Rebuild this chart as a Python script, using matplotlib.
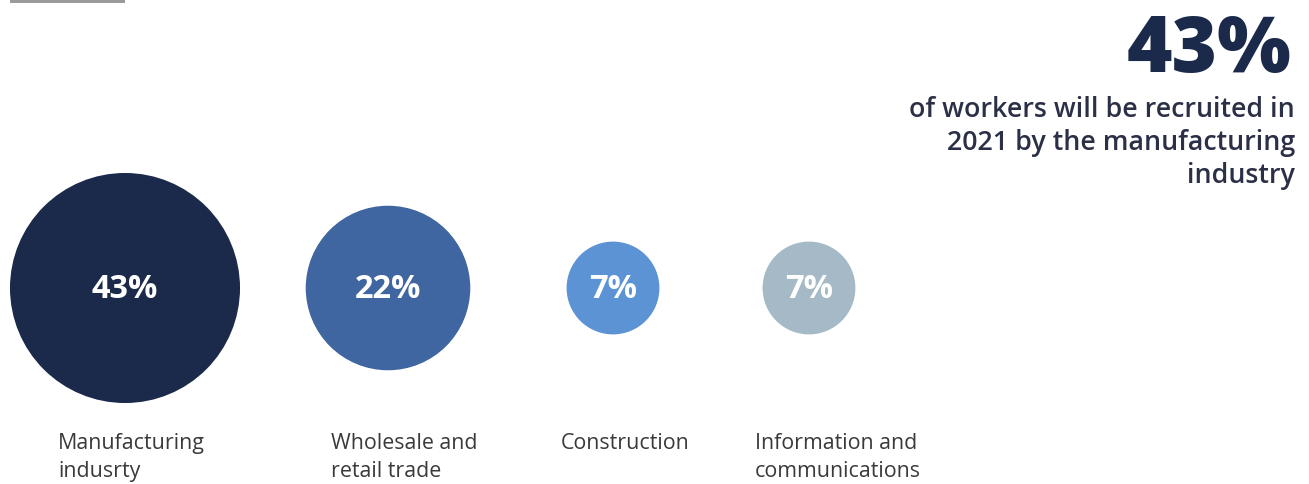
import matplotlib.pyplot as plt
from matplotlib.patches import Rectangle

# share of workers recruited in 2021, by industry
industries = ["Manufacturing\nindusrty", "Wholesale and\nretail trade",
              "Construction", "Information and\ncommunications"]
shares = [43, 22, 7, 7]
colors = ["#1b2a4b", "#3f66a1", "#5b93d4", "#a5bac6"]

# layout (pixels)
centers_x = [125, 388, 613, 809]
label_x = [58, 331, 561, 755]
center_y = 288

W, H = 1309, 484
fig = plt.figure(figsize=(W / 100, H / 100), dpi=100)
ax = fig.add_axes([0, 0, 1, 1])
ax.set_xlim(0, W)
ax.set_ylim(H, 0)
ax.axis("off")

# bubble area proportional to the share
ax.scatter(centers_x, [center_y] * len(shares), s=[638 * v for v in shares],
           c=colors, linewidths=0, zorder=2)

for cx, lx, v, name in zip(centers_x, label_x, shares, industries):
    ax.text(cx, center_y + 2, f"{v}%", color="white", fontsize=23.5,
            fontweight="bold", family="Open Sans", ha="center", va="center",
            zorder=3)
    ax.text(lx, 433, name, color="#3a3a3a", fontsize=15.4, family="Open Sans",
            ha="left", va="top", linespacing=1.42)

# headline figure
ax.text(1291, 72, f"{shares[0]}%", color="#1b2a4b", fontsize=56,
        fontweight="heavy", family="Open Sans", ha="right", va="baseline")
ax.text(1295, 96, "of workers will be recruited in\n2021 by the manufacturing\nindustry",
        color="#2b3046", fontsize=19.3, fontweight="semibold", family="Open Sans",
        ha="right", va="top", linespacing=1.24)

# small grey tab at the top-left edge
ax.add_patch(Rectangle((10, 0), 115, 3, color="#9a9a9a", lw=0))

fig.savefig("out.png", dpi=100)
